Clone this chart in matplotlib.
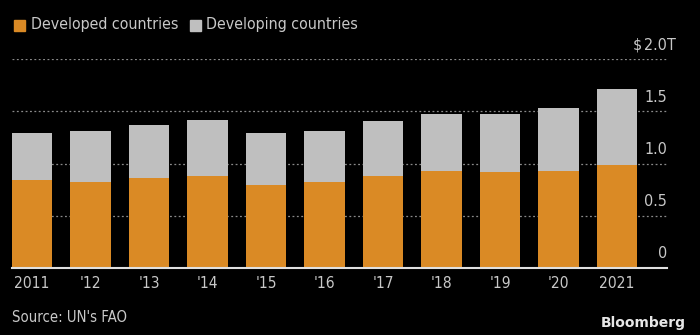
import matplotlib
matplotlib.use("Agg")
import matplotlib.pyplot as plt
from matplotlib import font_manager

years = ["2011", "'12", "'13", "'14", "'15", "'16", "'17", "'18", "'19", "'20", "2021"]
developed = [0.84, 0.82, 0.86, 0.88, 0.80, 0.82, 0.88, 0.93, 0.92, 0.93, 0.99]
developing = [0.45, 0.49, 0.51, 0.54, 0.49, 0.49, 0.53, 0.55, 0.56, 0.60, 0.73]
y_ticks = [0, 0.5, 1.0, 1.5, 2.0]
y_labels = ["0", "0.5", "1.0", "1.5", "2.0"]

ORANGE = "#da8a25"
GREY = "#bfbfbf"
TEXT = "#c8c8c8"

cond = [f.fname for f in font_manager.fontManager.ttflist
        if f.name == "DejaVu Sans" and f.stretch == "condensed" and f.weight == 400
        and f.style == "normal"]
plt.rcParams["font.family"] = ["DejaVu Sans"]
plt.rcParams["font.stretch"] = "condensed" if cond else "normal"

fig = plt.figure(figsize=(7, 3.35), dpi=100, facecolor="black")
ax = fig.add_axes([12 / 700, 0.2, 655 / 700, 208.7 / 335])
ax.set_facecolor("black")

x = list(range(len(years)))
ax.bar(x, developed, width=0.69, color=ORANGE, zorder=3)
ax.bar(x, developing, width=0.69, bottom=developed, color=GREY, zorder=3)

ax.set_xlim(-0.345, 10.855)
ax.set_ylim(0, 2.0)

# dotted gridlines, solid baseline
for v in y_ticks[1:]:
    ax.axhline(v, color="#8a8a8a", lw=0.9, ls=(0, (1.5, 2)), zorder=1)
ax.axhline(0, color="#e0e0e0", lw=1.5, zorder=4, clip_on=False)

for v, lab in zip(y_ticks, y_labels):
    ax.annotate(lab, xy=(1, v), xycoords=("axes fraction", "data"),
                xytext=(0, 7), textcoords="offset points",
                ha="right", va="baseline", color=TEXT, fontsize=11.5)
ax.annotate("$", xy=(1, 2.0), xycoords=("axes fraction", "data"),
            xytext=(-18, 7), textcoords="offset points",
            ha="right", va="baseline", color=TEXT, fontsize=11.5)
ax.annotate("T", xy=(1, 2.0), xycoords=("axes fraction", "data"),
            xytext=(0, 7), textcoords="offset points",
            ha="left", va="baseline", color=TEXT, fontsize=11.5)

ax.set_xticks(x)
ax.set_xticklabels(years, color=TEXT, fontsize=11.2)
ax.tick_params(axis="x", length=0, pad=6)
ax.set_yticks([])
for s in ax.spines.values():
    s.set_visible(False)

# legend
fig.patches.append(plt.Rectangle((14 / 700, 1 - 31 / 335), 11 / 700, 11 / 335,
                                 transform=fig.transFigure, color=ORANGE))
fig.text(31 / 700, 1 - 25 / 335, "Developed countries", color=TEXT,
         fontsize=11.4, va="center")
fig.patches.append(plt.Rectangle((190 / 700, 1 - 31 / 335), 11 / 700, 11 / 335,
                                 transform=fig.transFigure, color=GREY))
fig.text(206 / 700, 1 - 25 / 335, "Developing countries", color=TEXT,
         fontsize=11.4, va="center")

fig.text(12 / 700, 1 - 318 / 335, "Source: UN's FAO", color=TEXT,
         fontsize=10.7, va="center")
fig.text(686 / 700, 1 - 323 / 335, "Bloomberg", color="#e6e6e6",
         fontsize=10, fontweight="bold", fontstretch="normal",
         va="center", ha="right")

fig.savefig("out.png", dpi=100, facecolor="black")
